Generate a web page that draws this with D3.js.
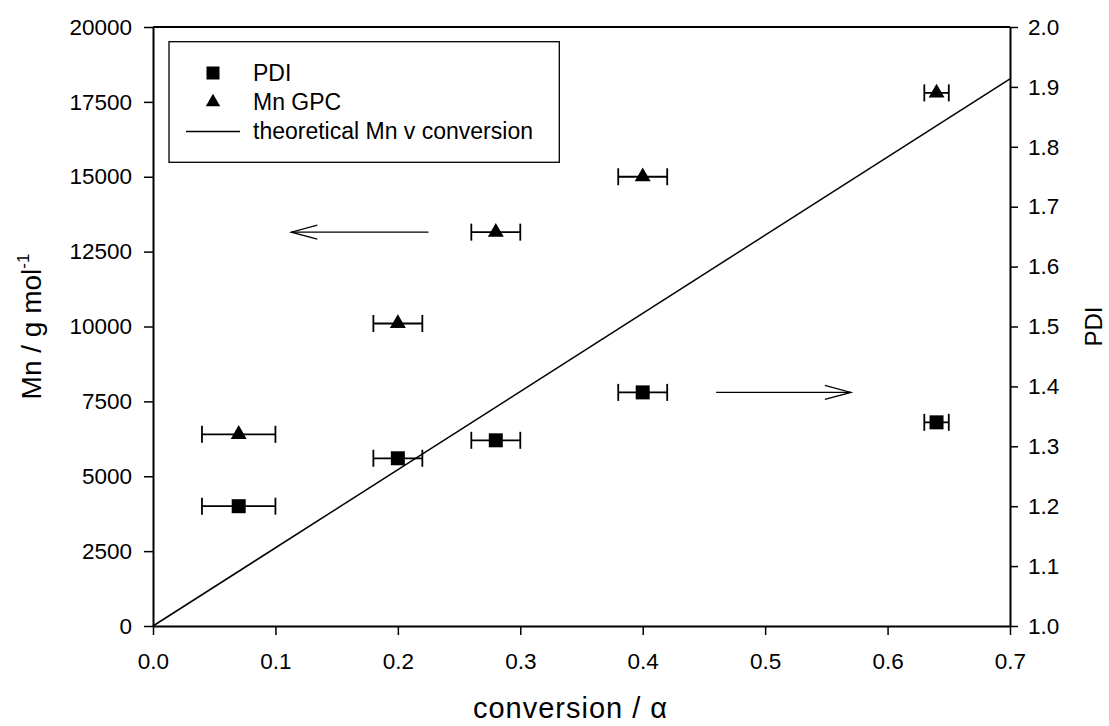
<!DOCTYPE html>
<html>
<head>
<meta charset="utf-8">
<script src="https://cdn.jsdelivr.net/npm/d3@7"></script>
<style>
  body { margin: 0; background: #fff; }
  svg { display: block; font-family: "Liberation Sans", Arial, sans-serif; }
</style>
</head>
<body>
<svg id="chart" width="1109" height="726"></svg>
<script>
// values
const conversion = [0.07, 0.2, 0.28, 0.4, 0.64];
const conversionErr = [0.03, 0.02, 0.02, 0.02, 0.01];
const mnGPC = [6400, 10100, 13150, 15000, 17800];
const pdi = [1.20, 1.28, 1.31, 1.39, 1.34];
const theoryConv = [0, 0.7];
const theoryMn = [0, 18270];
const xTicks = [0, 0.1, 0.2, 0.3, 0.4, 0.5, 0.6, 0.7];
const mnTicks = [0, 2500, 5000, 7500, 10000, 12500, 15000, 17500, 20000];
const pdiTicks = [1.0, 1.1, 1.2, 1.3, 1.4, 1.5, 1.6, 1.7, 1.8, 1.9, 2.0];
const legendLabels = ["PDI", "Mn GPC", "theoretical Mn v conversion"];
// arrows pointing at the axis each series belongs to
const arrows = [
  { axis: "mn", value: 13150, from: 0.225, to: 0.113 },
  { axis: "pdi", value: 1.39, from: 0.46, to: 0.57 }
];

const plotL = 153, plotR = 1010, plotT = 27, plotB = 626;
const svg = d3.select("#chart");

const x = d3.scaleLinear().domain([0, 0.7]).range([plotL, plotR]);
const yMn = d3.scaleLinear().domain([0, 20000]).range([plotB, plotT]);
const yPdi = d3.scaleLinear().domain([1.0, 2.0]).range([plotB, plotT]);

function styleAxis(g) {
  g.selectAll("path").attr("stroke", "#000").attr("stroke-width", 2);
  g.selectAll("line").attr("stroke", "#000").attr("stroke-width", 1.5);
  g.selectAll("text").attr("font-size", 22.5).attr("fill", "#000")
    .attr("font-family", "Liberation Sans, Arial, sans-serif");
}

svg.append("g")
  .attr("transform", `translate(0,${plotB})`)
  .call(d3.axisBottom(x).tickValues(xTicks).tickFormat(d3.format(".1f"))
    .tickSize(9).tickSizeOuter(0).tickPadding(18))
  .call(styleAxis);

svg.append("g")
  .attr("transform", `translate(${plotL},0)`)
  .call(d3.axisLeft(yMn).tickValues(mnTicks).tickFormat(d3.format("d"))
    .tickSize(9).tickSizeOuter(0).tickPadding(12))
  .call(styleAxis);

svg.append("g")
  .attr("transform", `translate(${plotR},0)`)
  .call(d3.axisRight(yPdi).tickValues(pdiTicks).tickFormat(d3.format(".1f"))
    .tickSize(8).tickSizeOuter(0).tickPadding(10))
  .call(styleAxis);

// top frame
svg.append("line")
  .attr("x1", plotL).attr("x2", plotR).attr("y1", plotT).attr("y2", plotT)
  .attr("stroke", "#000").attr("stroke-width", 2);

// theoretical line
const line = d3.line().x(d => x(d[0])).y(d => yMn(d[1]));
svg.append("path")
  .datum(d3.zip(theoryConv, theoryMn))
  .attr("d", line)
  .attr("fill", "none").attr("stroke", "#000").attr("stroke-width", 1.5);

// error bars + markers
function drawSeries(yScale, values, symbolType, size) {
  const g = svg.append("g");
  const pts = conversion.map((c, i) => ({ c, e: conversionErr[i], v: values[i] }));
  const bars = g.selectAll("g.err").data(pts).join("g").attr("class", "err")
    .attr("stroke", "#000").attr("stroke-width", 1.8);
  bars.append("line")
    .attr("x1", d => x(d.c - d.e)).attr("x2", d => x(d.c + d.e))
    .attr("y1", d => yScale(d.v)).attr("y2", d => yScale(d.v));
  bars.append("line")
    .attr("x1", d => x(d.c - d.e)).attr("x2", d => x(d.c - d.e))
    .attr("y1", d => yScale(d.v) - 8.5).attr("y2", d => yScale(d.v) + 8.5);
  bars.append("line")
    .attr("x1", d => x(d.c + d.e)).attr("x2", d => x(d.c + d.e))
    .attr("y1", d => yScale(d.v) - 8.5).attr("y2", d => yScale(d.v) + 8.5);
  g.selectAll("path.pt").data(pts).join("path").attr("class", "pt")
    .attr("d", d3.symbol().type(symbolType).size(size))
    .attr("transform", d => `translate(${x(d.c)},${yScale(d.v)})`)
    .attr("fill", "#000");
}
drawSeries(yPdi, pdi, d3.symbolSquare, 196);
drawSeries(yMn, mnGPC, d3.symbolTriangle, 110);

// arrows
arrows.forEach(a => {
  const ys = a.axis === "mn" ? yMn : yPdi;
  const y0 = ys(a.value), x0 = x(a.from), x1 = x(a.to);
  const dir = Math.sign(x1 - x0);
  const g = svg.append("g").attr("stroke", "#000").attr("stroke-width", 1.3).attr("fill", "none");
  g.append("line").attr("x1", x0).attr("x2", x1).attr("y1", y0).attr("y2", y0);
  g.append("path")
    .attr("d", `M${x1 - dir * 26},${y0 - 7}L${x1},${y0}L${x1 - dir * 26},${y0 + 7}`);
});

// legend
const lg = svg.append("g");
lg.append("rect")
  .attr("x", 169).attr("y", 41.7).attr("width", 390.3).attr("height", 120.6)
  .attr("fill", "#fff").attr("stroke", "#000").attr("stroke-width", 1.3);
const rowY = [73, 102, 131.5];
lg.append("path").attr("d", d3.symbol().type(d3.symbolSquare).size(169))
  .attr("transform", `translate(213,${rowY[0]})`).attr("fill", "#000");
lg.append("path").attr("d", d3.symbol().type(d3.symbolTriangle).size(90))
  .attr("transform", `translate(213,${rowY[1]})`).attr("fill", "#000");
lg.append("line").attr("x1", 186).attr("x2", 240).attr("y1", rowY[2]).attr("y2", rowY[2])
  .attr("stroke", "#000").attr("stroke-width", 1.5);
lg.selectAll("text").data(legendLabels).join("text")
  .attr("x", 253).attr("y", (d, i) => rowY[i] + 7.8)
  .attr("font-size", 23).text(d => d);

// axis titles
svg.append("text")
  .attr("x", (plotL + plotR) / 2 - 11).attr("y", 718)
  .attr("text-anchor", "middle").attr("font-size", 29)
  .attr("letter-spacing", 1)
  .text("conversion / α");

const yt = svg.append("text")
  .attr("transform", `translate(41,${(plotT + plotB) / 2}) rotate(-90)`)
  .attr("text-anchor", "middle").attr("font-size", 28);
yt.append("tspan").text("Mn / g mol");
yt.append("tspan").attr("font-size", 17).attr("dy", -12).text("-1");

svg.append("text")
  .attr("transform", `translate(1102,${(plotT + plotB) / 2}) rotate(-90)`)
  .attr("text-anchor", "middle").attr("font-size", 24)
  .text("PDI");
</script>
</body>
</html>
